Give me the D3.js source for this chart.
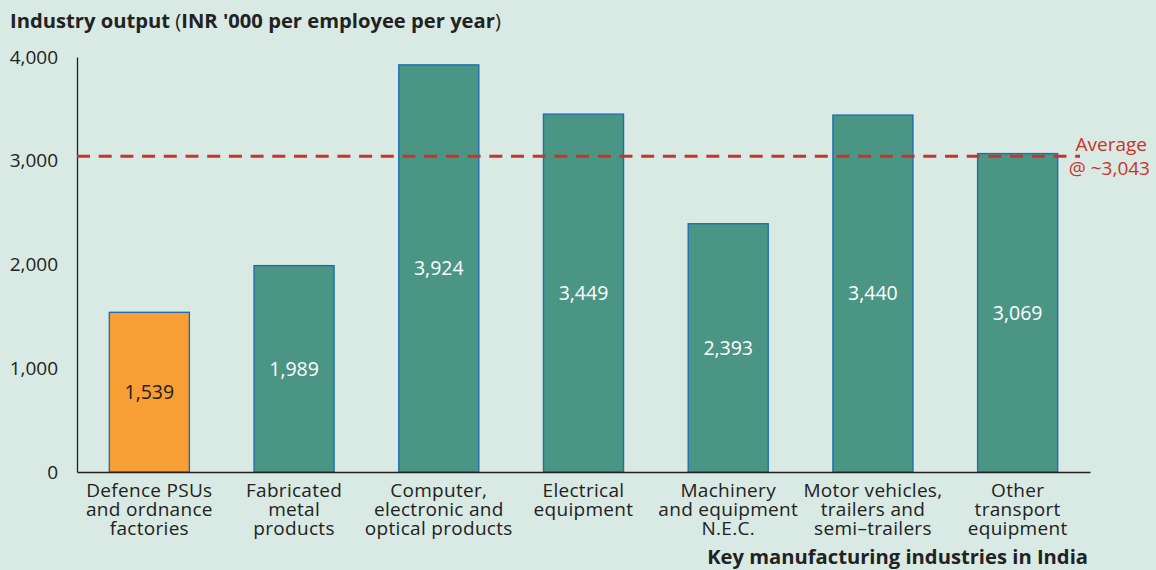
<!DOCTYPE html>
<html>
<head>
<meta charset="utf-8">
<title>Industry output</title>
<script src="https://cdnjs.cloudflare.com/ajax/libs/d3/7.8.5/d3.min.js"></script>
<style type="text/css">
    html, body { margin:0; padding:0; background:#d9e9e3; }
    svg { display:block; font-family:"Open Sans", sans-serif; }
</style>
</head>
<body>
<svg id="chart" width="1156" height="570"></svg>

<script type="text/javascript">

var categories = [
    ["Defence PSUs", "and ordnance", "factories"],
    ["Fabricated", "metal", "products"],
    ["Computer,", "electronic and", "optical products"],
    ["Electrical", "equipment"],
    ["Machinery", "and equipment", "N.E.C."],
    ["Motor vehicles,", "trailers and", "semi\u2013trailers"],
    ["Other", "transport", "equipment"]
];
var values = [1539, 1989, 3924, 3449, 2393, 3440, 3069];
var highlight = [true, false, false, false, false, false, false];
var average = 3043;
var yTicks = [0, 1000, 2000, 3000, 4000];

var teal = '#4b9585',
    orange = '#f79e35',
    edge = '#1f6eb0',
    red = '#c9342a',
    ink = '#222';

var plotLeft = 77, plotRight = 1090, plotTop = 57, plotBottom = 472;

var svg = d3.select('#chart');

var x = d3.scaleBand()
    .domain(d3.range(categories.length))
    .range([plotLeft, plotRight])
    .paddingInner(0.447)
    .paddingOuter(0.2235);

var y = d3.scaleLinear()
    .domain([0, 4000])
    .range([plotBottom, plotTop]);

// title
var title = svg.append('text')
    .attr('x', 10).attr('y', 28)
    .attr('font-size', 20.2)
    .attr('fill', ink)
    .attr('font-weight', 700);
title.append('tspan').text('Industry output ');
title.append('tspan').attr('font-weight', 400).text('(');
title.append('tspan').text("INR '000 per employee per year");
title.append('tspan').attr('font-weight', 400).text(')');

// y axis
var yAxis = svg.append('g')
    .attr('transform', 'translate(' + plotLeft + ',0)')
    .call(d3.axisLeft(y).tickValues(yTicks).tickSize(0).tickPadding(19).tickFormat(d3.format(',')));
yAxis.select('.domain').attr('stroke', ink).attr('stroke-width', 1.3);
yAxis.selectAll('text')
    .attr('font-size', 19)
    .attr('fill', ink)
    .attr('font-family', '"Open Sans", sans-serif');

// bars
svg.append('g').selectAll('rect')
    .data(values)
    .join('rect')
    .attr('x', function(d, i){ return x(i); })
    .attr('y', function(d){ return y(d); })
    .attr('width', x.bandwidth())
    .attr('height', function(d){ return plotBottom - y(d); })
    .attr('fill', function(d, i){ return highlight[i] ? orange : teal; })
    .attr('stroke', edge)
    .attr('stroke-width', 1.4);

// value labels
svg.append('g').selectAll('text')
    .data(values)
    .join('text')
    .attr('x', function(d, i){ return x(i) + x.bandwidth()/2; })
    .attr('y', function(d){ return (y(d) + plotBottom)/2; })
    .attr('dy', '0.35em')
    .attr('text-anchor', 'middle')
    .attr('font-size', 19.5)
    .attr('fill', function(d, i){ return highlight[i] ? ink : '#fff'; })
    .text(d3.format(','));

// x axis
var xAxis = svg.append('g')
    .attr('transform', 'translate(0,' + plotBottom + ')')
    .call(d3.axisBottom(x).tickSize(0).tickFormat(''));
xAxis.select('.domain').attr('stroke', ink).attr('stroke-width', 1.3);

// category labels
var cat = svg.append('g').selectAll('text')
    .data(categories)
    .join('text')
    .attr('x', function(d, i){ return x(i) + x.bandwidth()/2; })
    .attr('y', 497)
    .attr('text-anchor', 'middle')
    .attr('font-size', 19)
    .attr('letter-spacing', 0.3)
    .attr('fill', ink);
cat.selectAll('tspan')
    .data(function(d){ return d; })
    .join('tspan')
    .attr('x', function(){ return this.parentNode.getAttribute('x'); })
    .attr('dy', function(d, i){ return i ? 19 : 0; })
    .text(function(d){ return d; });

// average line
svg.append('line')
    .attr('x1', plotLeft).attr('x2', 1080)
    .attr('y1', y(average)).attr('y2', y(average))
    .attr('stroke', red)
    .attr('stroke-width', 3)
    .attr('stroke-dasharray', '13,8.7');

svg.append('text')
    .attr('x', 1147).attr('y', y(average) - 5)
    .attr('text-anchor', 'end')
    .attr('font-size', 19)
    .attr('fill', red)
    .text('Average');
svg.append('text')
    .attr('x', 1150).attr('y', y(average) + 19)
    .attr('text-anchor', 'end')
    .attr('font-size', 19)
    .attr('fill', red)
    .text('@ ~' + d3.format(',')(average));

// x axis title
svg.append('text')
    .attr('x', 1088).attr('y', 564)
    .attr('text-anchor', 'end')
    .attr('font-size', 20.2)
    .attr('font-weight', 700)
    .attr('fill', ink)
    .text('Key manufacturing industries in India');

</script>
</body>
</html>
